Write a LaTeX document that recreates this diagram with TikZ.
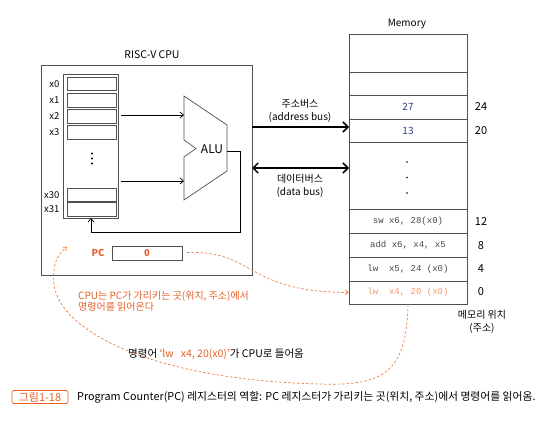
\documentclass[tikz,border=0pt]{standalone}
\usepackage{fontspec}
\setmainfont{Noto Sans CJK KR}
\newfontfamily\codefont{Liberation Mono}
\usetikzlibrary{arrows.meta}
\definecolor{orng}{HTML}{E5602A}
\definecolor{lorng}{HTML}{EE9A6A}
\definecolor{dorng}{HTML}{F07E40}
\definecolor{nblue}{HTML}{2B3A94}
\definecolor{lgray}{HTML}{505050}
\definecolor{codegray}{HTML}{484848}
\begin{document}
\begin{tikzpicture}[x=1pt,y=-1pt, font=\fontsize{10}{12}\selectfont,
 box/.style={draw=lgray, line width=0.7pt},
 reg/.style={draw=lgray, line width=0.6pt, minimum width=49pt, minimum height=13.5pt, inner sep=0},
 memcell/.style={draw=lgray, line width=0.7pt, minimum width=118pt, inner sep=0},
 thinarrow/.style={-{Straight Barb[length=3.5pt,width=6pt]}, line width=0.7pt},
 busarrow/.style={-{Straight Barb[length=5pt,width=10pt,line width=1.5pt]}, line width=2.2pt},
 dasharrow/.style={draw=dorng, dash pattern=on 2.5pt off 2pt, line width=0.7pt, -{Straight Barb[length=3pt,width=5pt]}},
 code/.style={font=\codefont\fontsize{9}{10}\selectfont, text=codegray},
 addr/.style={font=\fontsize{11}{12}\selectfont},
 reglab/.style={anchor=east, font=\fontsize{9.5}{10}\selectfont},
]
\useasboundingbox (0,0) rectangle (549,422);

% CPU
\node[box, minimum width=211pt, minimum height=210pt, inner sep=0] (cpu) at (146.5,170) {};
\node[font=\fontsize{10.5}{12}\selectfont] (cputitle) at (152,55) {RISC-V CPU};

% register file
\node[box, line width=0.6pt, minimum width=55pt, minimum height=144pt, inner sep=0] (rf) at (90.5,146) {};
\node[reg] (x0) at (91.5,84) {};
\node[reg] (x1) at (91.5,100.5) {};
\node[reg] (x2) at (91.5,116.5) {};
\node[reg] (x3) at (91.5,132.5) {};
\node[reg] (x30) at (91.5,195) {};
\node[reg] (x31) at (91.5,209.5) {};
\node[reglab] (lx0) at (63,84) {x0};
\node[reglab] (lx1) at (63,100.5) {x1};
\node[reglab] (lx2) at (63,116.5) {x2};
\node[reglab] (lx3) at (63,132.5) {x3};
\node[reglab] (lx30) at (63,195) {x30};
\node[reglab] (lx31) at (63,209.5) {x31};
\fill (92,153.5) circle (1.2pt) (92,158.5) circle (1.2pt) (92,163.5) circle (1.2pt);

% ALU
\draw[box] (184,96) -- (227,125) -- (227,171) -- (184,200) -- (184,157) -- (196,148.5) -- (184,140) -- cycle;
\node[font=\fontsize{12}{14}\selectfont] (alu) at (212,149) {ALU};
\coordinate (rfo1) at (121,115);
\coordinate (alui1) at (184,115);
\coordinate (rfo2) at (121,181);
\coordinate (alui2) at (184,181);
\coordinate (aluo) at (227,151);
\coordinate (rfin) at (91,218);
\draw[thinarrow] (rfo1) -- (alui1);
\draw[thinarrow] (rfo2) -- (alui2);
\draw[thinarrow] (aluo) -- (240,151) -- (240,232) -- (91,232) -- (rfin);

% PC
\node[text=orng, font=\bfseries\fontsize{9.5}{10}\selectfont] (pclab) at (98,253) {PC};
\node[box, line width=0.6pt, minimum width=70pt, minimum height=14pt, inner sep=0, text=orng, font=\bfseries\fontsize{9.5}{10}\selectfont] (pcbox) at (147,253) {0};

% Memory
\node (memtitle) at (407,24) {Memory};
\node[memcell, minimum height=38pt] (m1) at (408,53) {};
\node[memcell, minimum height=23pt] (m2) at (408,83.5) {};
\node[memcell, minimum height=24pt, text=nblue, font=\fontsize{10}{12}\selectfont] (m3) at (408,107) {27};
\node[memcell, minimum height=23pt, text=nblue, font=\fontsize{10}{12}\selectfont] (m4) at (408,130.5) {13};
\node[memcell, minimum height=67pt] (m5) at (408,175.5) {};
\fill (407,162) circle (0.9pt) (407,177.5) circle (0.9pt) (407,193) circle (0.9pt);
\node[memcell, minimum height=24pt, code] (m6) at (408,221) {sw x6, 28(x0)};
\node[memcell, minimum height=24pt, code] (m7) at (408,245) {add x6, x4, x5};
\node[memcell, minimum height=24pt, code] (m8) at (408,269) {lw\ \ x5, 24 (x0)};
\node[memcell, minimum height=23pt, code, text=lorng] (m9) at (408,292.5) {lw\ \ x4, 20 (x0)};
\node[addr] (a24) at (481,107) {24};
\node[addr] (a20) at (481,131) {20};
\node[addr] (a12) at (481,222) {12};
\node[addr] (a8) at (481,246) {8};
\node[addr] (a4) at (481,269) {4};
\node[addr] (a0) at (481,292) {0};
\node (memloc) at (482,315) {메모리 위치};
\node (memaddr) at (482,328) {(주소)};

% Buses
\coordinate (abs) at (252,127);
\coordinate (abe) at (349,127);
\coordinate (dbs) at (252,168);
\coordinate (dbe) at (349,168);
\draw[busarrow] (abs) -- (abe);
\draw[busarrow, {Straight Barb[length=5pt,width=10pt,line width=1.5pt]}-{Straight Barb[length=5pt,width=10pt,line width=1.5pt]}] (dbs) -- (dbe);
\node (ab1) at (300,104) {주소버스};
\node (ab2) at (300,117) {(address bus)};
\node (db1) at (300,178.5) {데이터버스};
\node (db2) at (300,192) {(data bus)};

% dashed curves
\coordinate (pcout) at (187,252.5);
\draw[dasharrow] (pcout) .. controls (255,250) and (245,292) .. (m9.west);
\coordinate (cpuin) at (67,247);
\draw[dasharrow] (m9.south) .. controls (407,375) and (380,386) .. (320,384)
  .. controls (150,380) and (60,330) .. (54,285)
  .. controls (52,263) and (58,254) .. (cpuin);

% notes
\node[anchor=west, text=orng, align=left, inner sep=0, font=\fontsize{10}{11.5}\selectfont] (note1) at (78,301.5) {CPU는 PC가 가리키는 곳(위치, 주소)에서\\명령어를 읽어온다};
\node[anchor=west, inner sep=0, font=\fontsize{10.5}{12}\selectfont] (note2) at (128,354) {명령어 \textcolor{orng}{‘lw\ \ \ x4, 20(x0)’}가 CPU로 들어옴};

% caption
\node[draw=orng, rounded corners=2pt, line width=0.7pt, text=orng, minimum width=56pt, minimum height=13pt, inner sep=0, font=\fontsize{11}{12}\selectfont] (fig) at (40,397) {그림1-18};
\node[anchor=west, inner sep=0, font=\fontsize{10.8}{12}\selectfont] (cap) at (77,397.5) {Program Counter(PC) 레지스터의 역할: PC 레지스터가 가리키는 곳(위치, 주소)에서 명령어를 읽어옴.};
\end{tikzpicture}
\end{document}
